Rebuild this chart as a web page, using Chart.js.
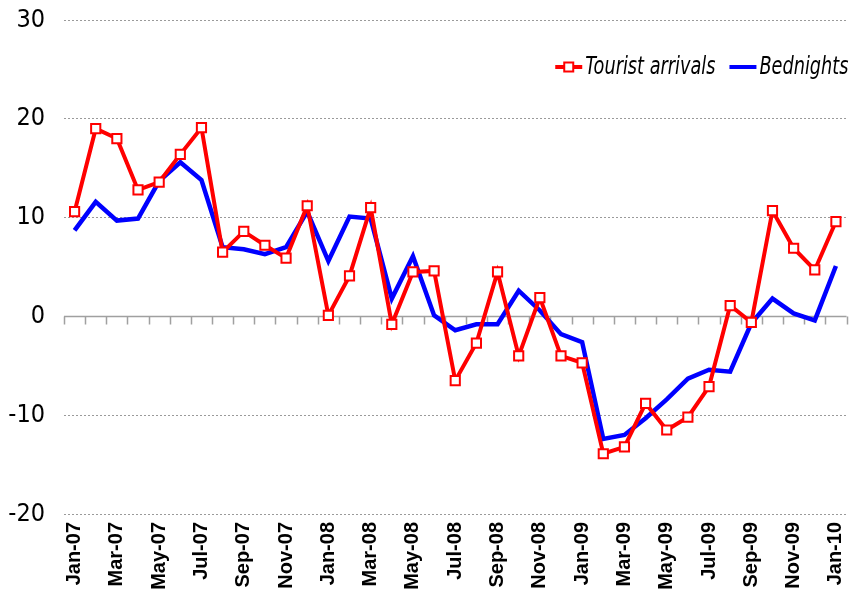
<!DOCTYPE html>
<html>
<head>
<meta charset="utf-8">
<script src="https://cdn.jsdelivr.net/npm/chart.js@4/dist/chart.umd.min.js"></script>
<style>
  html, body { margin: 0; padding: 0; background: #fff; }
  #wrap { width: 855px; height: 599px; }
</style>
</head>
<body>
<div id="wrap"><canvas id="grafico" width="855" height="599"></canvas></div>
<script>
const meses = [
  "Jan-07", "Feb-07", "Mar-07", "Apr-07", "May-07", "Jun-07", "Jul-07", "Aug-07", "Sep-07", "Oct-07", "Nov-07", "Dec-07",
  "Jan-08", "Feb-08", "Mar-08", "Apr-08", "May-08", "Jun-08", "Jul-08", "Aug-08", "Sep-08", "Oct-08", "Nov-08", "Dec-08",
  "Jan-09", "Feb-09", "Mar-09", "Apr-09", "May-09", "Jun-09", "Jul-09", "Aug-09", "Sep-09", "Oct-09", "Nov-09", "Dec-09",
  "Jan-10"
];

const llegadas = [
  10.6, 19.0, 18.0, 12.8, 13.6, 16.4, 19.1, 6.5, 8.6, 7.2, 5.9, 11.2,
  0.1, 4.1, 11.0, -0.8, 4.5, 4.6, -6.5, -2.7, 4.5, -4.0, 1.9, -4.0,
  -4.7, -13.9, -13.2, -8.8, -11.5, -10.2, -7.1, 1.1, -0.6, 10.7, 6.9, 4.7,
  9.6
];

const pernoctaciones = [
  8.7, 11.6, 9.7, 9.9, 13.7, 15.6, 13.8, 7.0, 6.8, 6.3, 7.0, 10.6,
  5.6, 10.1, 9.9, 1.8, 6.1, 0.1, -1.4, -0.8, -0.8, 2.6, 0.6, -1.8,
  -2.6, -12.4, -12.0, -10.3, -8.4, -6.3, -5.4, -5.6, -0.7, 1.8, 0.3, -0.4,
  5.1
];

const ticksY = [-20, -10, 0, 10, 20, 30];

const fuenteY = "'Liberation Sans Narrow', 'DejaVu Sans Condensed', 'Arial Narrow', sans-serif";

// eje horizontal en cero, con marcas entre categorias
const ejeCero = {
  id: "ejeCero",
  beforeDatasetsDraw(chart) {
    const { ctx, chartArea, scales } = chart;
    const y0 = scales.y.getPixelForValue(0);
    const paso = scales.x.getPixelForValue(1) - scales.x.getPixelForValue(0);
    ctx.save();
    ctx.strokeStyle = "#a0a0a0";
    ctx.lineWidth = 1.5;
    ctx.beginPath();
    ctx.moveTo(chartArea.left, y0);
    ctx.lineTo(chartArea.right, y0);
    for (let i = 0; i <= meses.length; i++) {
      const x = Math.round(scales.x.getPixelForValue(i) - paso / 2) + 0.5;
      ctx.moveTo(x, y0);
      ctx.lineTo(x, y0 + 8);
    }
    ctx.stroke();
    ctx.restore();
  }
};

// leyenda dentro del area del grafico, arriba a la derecha (texto estrecho)
const leyenda = {
  id: "leyenda",
  afterDraw(chart) {
    const { ctx, chartArea } = chart;
    const y = 67;
    const esc = 0.82;
    ctx.save();
    ctx.font = "italic 24px " + fuenteY;
    ctx.textBaseline = "middle";
    ctx.textAlign = "left";

    let x = chartArea.right + 2;
    const items = chart.data.datasets.slice().reverse();
    items.forEach(ds => {
      const ancho = ctx.measureText(ds.label).width * esc;
      x -= ancho;
      ctx.save();
      ctx.translate(x, y + 1);
      ctx.scale(esc, 1);
      ctx.fillStyle = "#000";
      ctx.fillText(ds.label, 0, 0);
      ctx.restore();
      const x1 = x - 3;
      const x0 = x1 - 27;
      ctx.strokeStyle = ds.borderColor;
      ctx.lineWidth = 4;
      ctx.beginPath();
      ctx.moveTo(x0, y);
      ctx.lineTo(x1, y);
      ctx.stroke();
      if (ds.pointRadius > 0) {
        const m = 4.5;
        ctx.fillStyle = "#fff";
        ctx.lineWidth = 2;
        ctx.fillRect((x0 + x1) / 2 - m, y - m, 2 * m, 2 * m);
        ctx.strokeRect((x0 + x1) / 2 - m, y - m, 2 * m, 2 * m);
      }
      x = x0 - 14;
    });
    ctx.restore();
  }
};

new Chart(document.getElementById("grafico"), {
  type: "line",
  data: {
    labels: meses,
    datasets: [
      {
        label: "Tourist arrivals",
        data: llegadas,
        borderColor: "#ff0000",
        backgroundColor: "#ffffff",
        borderWidth: 4,
        tension: 0,
        pointStyle: "rect",
        pointRadius: 6.5,
        pointBorderWidth: 2,
        pointBorderColor: "#ff0000",
        pointBackgroundColor: "#ffffff"
      },
      {
        label: "Bednights",
        data: pernoctaciones,
        borderColor: "#0000ff",
        backgroundColor: "#0000ff",
        borderWidth: 4.5,
        tension: 0,
        pointRadius: 0
      }
    ]
  },
  options: {
    responsive: false,
    animation: false,
    layout: {
      padding: { top: 20, right: 4, left: 0, bottom: 0 }
    },
    plugins: {
      legend: { display: false },
      tooltip: { enabled: false }
    },
    scales: {
      x: {
        offset: true,
        grid: { display: false, drawTicks: false },
        border: { display: false },
        afterFit: s => {
          s.height = 85;
          s.paddingLeft = 0;
          s.paddingRight = 0;
        },
        ticks: {
          autoSkip: false,
          minRotation: 90,
          maxRotation: 90,
          padding: 8,
          color: "#000",
          font: { family: "'Liberation Sans', Arial, sans-serif", size: 20, weight: "bold" },
          callback: (v, i) => (i % 2 === 0 ? meses[i] : "")
        }
      },
      y: {
        min: ticksY[0],
        max: ticksY[ticksY.length - 1],
        afterFit: s => {
          s.width = 64;
          s.paddingTop = 0;
          s.paddingBottom = 0;
        },
        afterBuildTicks: s => { s.ticks = ticksY.map(v => ({ value: v })); },
        grid: {
          drawTicks: false,
          color: "#9a9a9a",
          lineWidth: 1
        },
        border: { display: false, dash: [2, 2] },
        ticks: {
          padding: 19,
          color: "#000",
          font: { family: fuenteY, size: 25 }
        }
      }
    }
  },
  plugins: [ejeCero, leyenda]
});
</script>
</body>
</html>
